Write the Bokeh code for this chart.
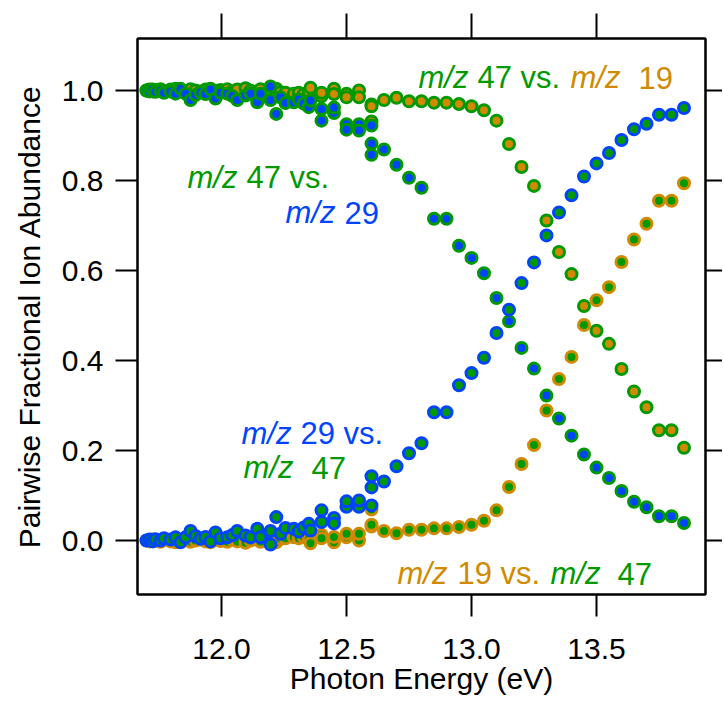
from bokeh.plotting import figure
from bokeh.models import (LinearAxis, FixedTicker, NumeralTickFormatter, Range1d,
                          Label, CustomJSTickFormatter)
from bokeh.embed import file_html
from bokeh.resources import INLINE

# ---------------- data ----------------
energy_eV = [
    11.700, 11.712, 11.724, 11.736, 11.756, 11.770, 11.796, 11.816, 11.836, 11.856,
    11.876, 11.896, 11.916, 11.936, 11.956, 11.976, 11.996, 12.023, 12.043, 12.063,
    12.096, 12.116, 12.143, 12.156, 12.196, 12.196, 12.219, 12.236, 12.256, 12.289,
    12.309, 12.329, 12.349, 12.356, 12.400, 12.400, 12.450, 12.450, 12.500, 12.500,
    12.550, 12.550, 12.600, 12.600, 12.600,
    12.65, 12.70, 12.75, 12.80, 12.85, 12.90, 12.95, 13.00, 13.05, 13.10,
    13.15, 13.20, 13.25, 13.30, 13.35, 13.40, 13.45, 13.50, 13.55, 13.60,
    13.65, 13.70, 13.75, 13.80, 13.85]

# m/z 47 vs. m/z 19  (orange centre, green ring)
mz47_vs_mz19 = [
    1.000, 1.002, 0.998, 1.001, 1.003, 0.999, 1.002, 1.004, 1.001, 0.997,
    1.003, 1.000, 0.998, 1.002, 1.004, 0.999, 1.001, 1.003, 0.998, 1.002,
    1.005, 1.000, 0.997, 1.003, 1.006, 0.999, 1.004, 0.996, 0.995, 0.993,
    0.995, 0.992, 0.997, 1.006, 0.987, 0.995, 1.004, 0.992, 0.993, 0.985,
    1.000, 0.985, 0.969, 0.931, 0.965,
    0.979, 0.984, 0.976, 0.976, 0.973, 0.973, 0.970, 0.965, 0.956, 0.933,
    0.881, 0.830, 0.788, 0.711, 0.641, 0.592, 0.521, 0.466, 0.437, 0.381,
    0.331, 0.296, 0.245, 0.245, 0.206]

# m/z 19 vs. m/z 47  (green centre, orange ring)
mz19_vs_mz47 = [
    0.000, -0.002, 0.002, -0.001, -0.003, 0.001, -0.002, -0.004, -0.001, 0.003,
    -0.003, 0.000, 0.002, -0.002, -0.004, 0.001, -0.001, -0.003, 0.002, -0.002,
    -0.005, 0.000, 0.003, -0.003, -0.006, 0.001, -0.004, 0.004, 0.005, 0.007,
    0.005, 0.008, 0.003, -0.006, 0.013, 0.005, -0.004, 0.008, 0.007, 0.015,
    0.000, 0.015, 0.031, 0.069, 0.035,
    0.021, 0.016, 0.024, 0.024, 0.027, 0.027, 0.030, 0.035, 0.044, 0.067,
    0.119, 0.170, 0.212, 0.289, 0.359, 0.408, 0.479, 0.534, 0.563, 0.619,
    0.669, 0.704, 0.755, 0.755, 0.794]

# m/z 47 vs. m/z 29  (blue centre, green ring)
mz47_vs_mz29 = [
    1.000, 0.998, 1.002, 0.997, 1.000, 0.995, 0.998, 0.993, 1.004, 0.993,
    0.979, 0.990, 0.996, 0.992, 1.002, 0.982, 0.995, 0.993, 0.988, 0.979,
    0.989, 0.993, 0.974, 0.993, 1.009, 0.979, 0.948, 0.985, 0.972, 0.974,
    0.980, 0.971, 0.963, 0.978, 0.959, 0.933, 0.950, 0.962, 0.925, 0.913,
    0.925, 0.911, 0.922, 0.882, 0.857,
    0.869, 0.835, 0.806, 0.784, 0.715, 0.715, 0.655, 0.628, 0.594, 0.539,
    0.487, 0.428, 0.382, 0.322, 0.271, 0.233, 0.191, 0.162, 0.139, 0.110,
    0.086, 0.074, 0.054, 0.054, 0.039]

# m/z 29 vs. m/z 47  (green centre, blue ring)
mz29_vs_mz47 = [
    0.000, 0.002, -0.002, 0.003, 0.000, 0.005, 0.002, 0.007, -0.004, 0.007,
    0.021, 0.010, 0.004, 0.008, -0.002, 0.018, 0.005, 0.007, 0.012, 0.021,
    0.011, 0.007, 0.026, 0.007, -0.009, 0.021, 0.052, 0.015, 0.028, 0.026,
    0.020, 0.029, 0.037, 0.022, 0.041, 0.067, 0.050, 0.038, 0.075, 0.087,
    0.075, 0.089, 0.078, 0.118, 0.143,
    0.131, 0.165, 0.194, 0.216, 0.285, 0.285, 0.345, 0.372, 0.406, 0.461,
    0.513, 0.572, 0.618, 0.678, 0.729, 0.767, 0.809, 0.838, 0.861, 0.890,
    0.914, 0.926, 0.946, 0.946, 0.961]

x_ticks = [12.0, 12.5, 13.0, 13.5]
y_ticks = [0.0, 0.2, 0.4, 0.6, 0.8, 1.0]
x_label = "Photon Energy (eV)"
y_label = "Pairwise Fractional Ion Abundance"

# ---------------- style ----------------
GREEN = "#009A00"
BLUE = "#0044FF"
ORANGE = "#CF8A00"
FONT = "Liberation Sans"
ANN_SIZE = 31  # px

p = figure(width=722, height=706, title=None,
           x_range=Range1d(11.664, 13.936), y_range=Range1d(-0.12, 1.1156),
           output_backend="svg", toolbar_location=None,
           min_border_left=137, min_border_right=17,
           min_border_top=38, min_border_bottom=112)
p.xgrid.visible = False
p.ygrid.visible = False
p.outline_line_color = "black"
p.outline_line_width = 2
p.background_fill_color = "white"
p.border_fill_color = "white"


def style_axis(ax, ticks, tick_out, show_labels):
    ax.ticker = FixedTicker(ticks=ticks)
    ax.axis_line_color = "black"
    ax.axis_line_width = 2
    ax.major_tick_line_color = "black"
    ax.major_tick_line_width = 2
    ax.major_tick_in = 0
    ax.major_tick_out = tick_out
    ax.minor_tick_line_color = None
    ax.major_label_text_font = FONT
    ax.major_label_text_color = "black"
    if show_labels:
        ax.formatter = NumeralTickFormatter(format="0.0")
        ax.major_label_text_font_size = "30px"
    else:
        ax.formatter = CustomJSTickFormatter(code="return ''")
        ax.major_label_text_font_size = "0px"
        ax.major_label_standoff = 0


xb = p.xaxis[0]
yl = p.yaxis[0]
style_axis(xb, x_ticks, 22, True)
style_axis(yl, y_ticks, 22, True)
xb.major_label_standoff = 22
yl.major_label_standoff = 12
xb.axis_label = x_label
yl.axis_label = y_label
xb.axis_label_text_font_size = "30px"
yl.axis_label_text_font_size = "30px"
for ax in (xb, yl):
    ax.axis_label_text_font = FONT
    ax.axis_label_text_font_style = "normal"
    ax.axis_label_text_color = "black"
xb.axis_label_standoff = 0
yl.axis_label_standoff = 13

top = LinearAxis()
style_axis(top, x_ticks, 25, False)
p.add_layout(top, "above")
right = LinearAxis()
style_axis(right, y_ticks, 17, False)
p.add_layout(right, "right")

# ---------------- markers ----------------
SIZE = 11
LW = 3
p.scatter(energy_eV, mz47_vs_mz19, marker="circle", size=SIZE,
          fill_color=ORANGE, line_color=GREEN, line_width=LW)
p.scatter(energy_eV, mz19_vs_mz47, marker="circle", size=SIZE,
          fill_color=GREEN, line_color=ORANGE, line_width=LW)
p.scatter(energy_eV, mz47_vs_mz29, marker="circle", size=SIZE,
          fill_color=BLUE, line_color=GREEN, line_width=LW)
p.scatter(energy_eV, mz29_vs_mz47, marker="circle", size=SIZE,
          fill_color=GREEN, line_color=BLUE, line_width=LW)


# ---------------- annotations ----------------
def px2x(px):
    return 12.0 + (px - 221.0) / 250.0


def py2y(py):
    return (540.0 - py) / 450.0


def seg(px, py, text, color, italic=False):
    p.add_layout(Label(x=px2x(px), y=py2y(py), text=text,
                       text_font=FONT, text_font_size=f"{ANN_SIZE}px",
                       text_font_style="italic" if italic else "normal",
                       text_color=color, text_align="left",
                       text_baseline="alphabetic"))


# top right: m/z 47 vs. m/z 19
seg(418, 77, "m/z", GREEN, True)
seg(477, 77, "47 vs.", GREEN)
seg(570, 77, "m/z", ORANGE, True)
seg(638, 77, "19", ORANGE)
# middle left: m/z 47 vs. / m/z 29
seg(187, 177, "m/z", GREEN, True)
seg(246, 177, "47 vs.", GREEN)
seg(285, 212, "m/z", BLUE, True)
seg(344, 212, "29", BLUE)
# lower left: m/z 29 vs. / m/z 47
seg(241, 433, "m/z", BLUE, True)
seg(300, 433, "29 vs.", BLUE)
seg(243, 467, "m/z", GREEN, True)
seg(311, 467, "47", GREEN)
# bottom right: m/z 19 vs. m/z 47
seg(397, 573, "m/z", ORANGE, True)
seg(457, 573, "19 vs.", ORANGE)
seg(550, 573, "m/z", GREEN, True)
seg(617, 573, "47", GREEN)

open("out.html", "w").write(file_html(p, INLINE))
